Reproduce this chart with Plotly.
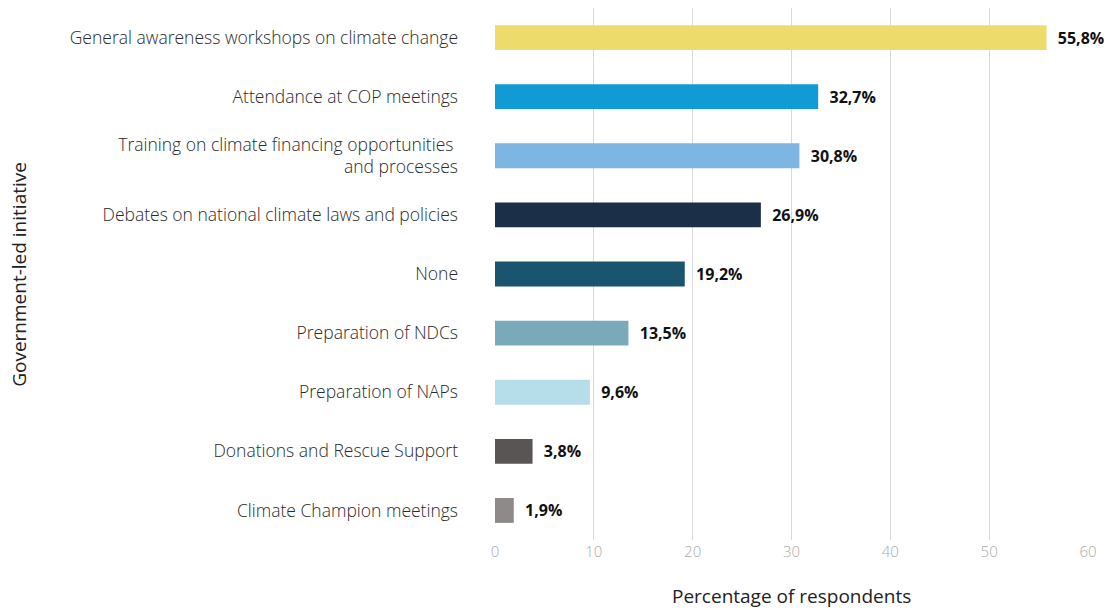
import plotly.graph_objects as go

categories = [
    "General awareness workshops on climate change",
    "Attendance at COP meetings",
    "Training on climate financing opportunities <br>and processes",
    "Debates on national climate laws and policies",
    "None",
    "Preparation of NDCs",
    "Preparation of NAPs",
    "Donations and Rescue Support",
    "Climate Champion meetings",
]
values = [55.8, 32.7, 30.8, 26.9, 19.2, 13.5, 9.6, 3.8, 1.9]
labels = ["55,8%", "32,7%", "30,8%", "26,9%", "19,2%", "13,5%", "9,6%", "3,8%", "1,9%"]
colors = ["#EDDC6B", "#109BD7", "#7DB5E3", "#1B2F48", "#1A5570",
          "#7AA9B9", "#B5DDEA", "#5A5555", "#8E8A8A"]
x_ticks = [0, 10, 20, 30, 40, 50, 60]

fig = go.Figure(go.Bar(
    x=values, y=categories, orientation="h",
    marker=dict(color=colors, line=dict(width=0)),
    width=0.42,
    text=labels, texttemplate="  %{text}", textposition="outside",
    textfont=dict(family="Open Sans", size=16, color="#111111", weight="bold"),
    cliponaxis=False,
))

fig.update_layout(
    width=1110, height=610,
    margin=dict(l=495, r=22, t=8, b=70, autoexpand=False),
    paper_bgcolor="white", plot_bgcolor="white",
    showlegend=False,
    font=dict(family="Open Sans", color="#333333"),
    xaxis=dict(
        range=[0, 60], tickvals=x_ticks, automargin=False,
        showgrid=True, gridcolor="#D9D9D9", gridwidth=1,
        zeroline=False, showline=False,
        tickfont=dict(size=15, color="#AAAAAA", weight=300),
        ticklabelstandoff=1,
    ),
    yaxis=dict(
        autorange="reversed", automargin=False,
        showgrid=False, zeroline=False, showline=False,
        tickfont=dict(size=17.5, color="#2A2A2A", weight=300),
        ticklabelstandoff=36,
    ),
    annotations=[
        dict(text="Percentage of respondents", xref="paper", yref="paper",
             x=0.5, y=-0.105, xanchor="center", yanchor="middle", showarrow=False,
             font=dict(size=19, color="#222222")),
        dict(text="Government-led initiative", xref="paper", yref="paper",
             x=-0.803, y=0.5, xanchor="center", yanchor="middle", showarrow=False,
             textangle=-90, font=dict(size=19, color="#222222")),
    ],
)

fig.write_html("out.html",
               config={"displayModeBar": False},
               post_script="document.body.style.margin='0';document.body.style.overflow='hidden';")
